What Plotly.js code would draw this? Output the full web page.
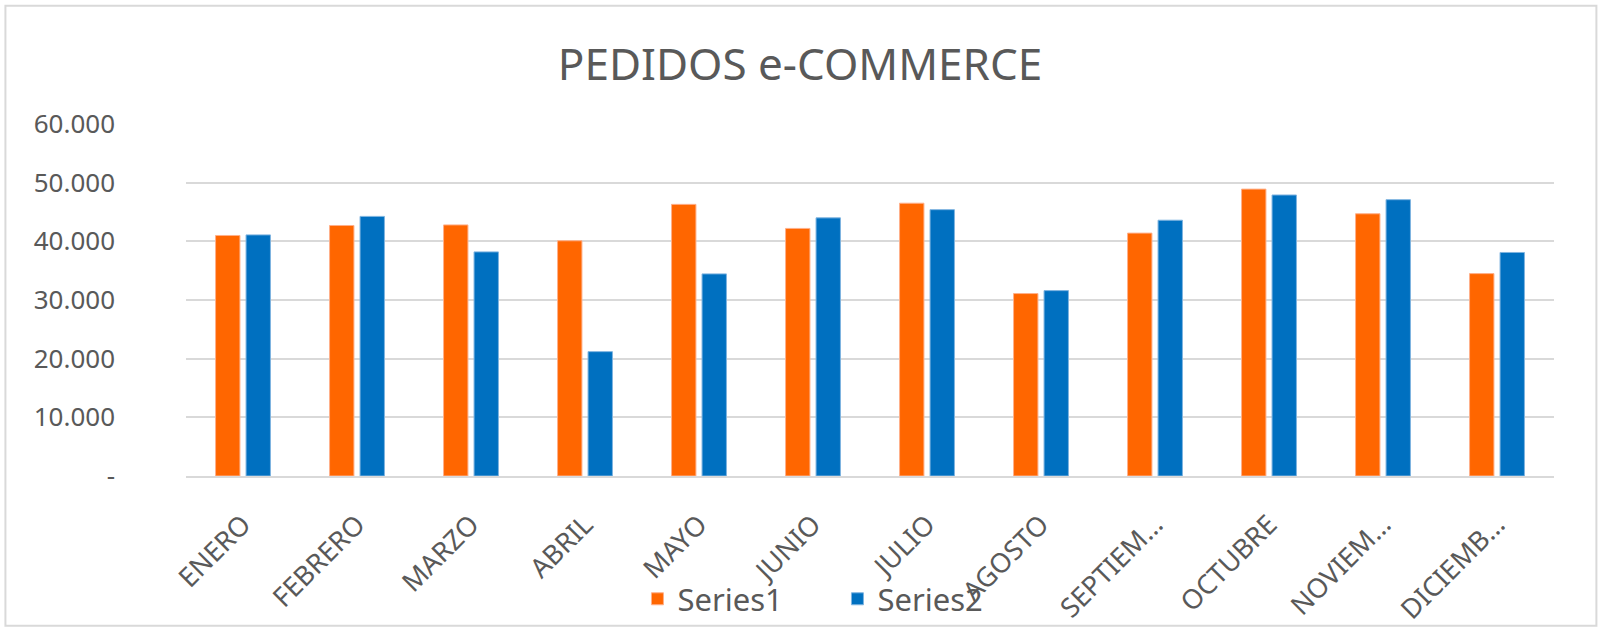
<!DOCTYPE html>
<html>
<head>
<meta charset="utf-8">
<script src="https://cdn.plot.ly/plotly-3.0.1.min.js"></script>
<style>
  html, body { margin: 0; padding: 0; background: #ffffff; }
  #chart { width: 1600px; height: 632px; }
</style>
</head>
<body>
<div id="chart"></div>
<script>
// Months as shown on the axis (Excel truncated the long ones)
const months = ['ENERO', 'FEBRERO', 'MARZO', 'ABRIL', 'MAYO', 'JUNIO',
  'JULIO', 'AGOSTO', 'SEPTIEM…', 'OCTUBRE', 'NOVIEM…', 'DICIEMB…'];

// Orders per month
const series1 = [41000, 42700, 42800, 40100, 46300, 42200,
  46500, 31100, 41400, 48900, 44700, 34500];
const series2 = [41100, 44250, 38200, 21200, 34450, 44000,
  45400, 31600, 43600, 47900, 47100, 38100];

const seriesNames = ['Series1', 'Series2'];

// Y axis ticks, Excel style (thousands with a dot, zero as a dash)
const yTickVals = [0, 10000, 20000, 30000, 40000, 50000, 60000];
const yTickText = ['-', '10.000', '20.000', '30.000', '40.000', '50.000', '60.000'];

const FONT = 'Noto Sans, Open Sans, sans-serif';
const TEXT_COLOR = '#595959';
const GRID = '#d9d9d9';

const traces = [
  {
    type: 'bar',
    x: months,
    y: series1,
    name: seriesNames[0],
    marker: { color: '#ff6600', line: { color: '#ffb08a', width: 1 } },
    hoverinfo: 'x+y'
  },
  {
    type: 'bar',
    x: months,
    y: series2,
    name: seriesNames[1],
    marker: { color: '#0070c0', line: { color: '#7fb4e0', width: 1 } },
    hoverinfo: 'x+y'
  }
];

const layout = {
  width: 1600,
  height: 632,
  title: {
    text: 'PEDIDOS e-COMMERCE',
    x: 0.5,
    xanchor: 'center',
    xref: 'container',
    y: 0.897,
    yanchor: 'middle',
    yref: 'container',
    font: { family: FONT, size: 44, color: TEXT_COLOR }
  },
  barmode: 'group',
  bargap: 0.465,
  bargroupgap: 0.2,
  margin: { l: 186, r: 46, t: 124, b: 156 },
  xaxis: {
    type: 'category',
    tickangle: -45,
    tickfont: { family: FONT, size: 27, color: TEXT_COLOR },
    showgrid: false,
    showline: true,
    linecolor: GRID,
    linewidth: 2,
    ticks: '',
    ticklen: 0,
    ticklabelstandoff: 20,
    automargin: false
  },
  yaxis: {
    range: [0, 60000],
    tickvals: yTickVals,
    ticktext: yTickText,
    tickfont: { family: FONT, size: 26, color: TEXT_COLOR },
    gridcolor: GRID,
    gridwidth: 2,
    zeroline: false,
    showline: false,
    ticks: '',
    ticklabelstandoff: 70,
    automargin: false
  },
  showlegend: true,
  legend: {
    orientation: 'h',
    x: 0.33,
    xanchor: 'left',
    yref: 'container',
    y: 0.052,
    yanchor: 'middle',
    font: { family: FONT, size: 31, color: TEXT_COLOR },
    bgcolor: 'rgba(0,0,0,0)',
    itemwidth: 30,
    entrywidth: 155,
    entrywidthmode: 'pixels',
    traceorder: 'normal'
  },
  shapes: [
    {
      // outer chart frame
      type: 'rect',
      xref: 'paper', yref: 'paper',
      x0: -0.132, x1: 1.031,
      y0: -0.4255, y1: 1.336,
      line: { color: '#d9d9d9', width: 2 },
      fillcolor: 'rgba(0,0,0,0)',
      layer: 'below'
    }
  ],
  paper_bgcolor: '#ffffff',
  plot_bgcolor: '#ffffff',
  font: { family: FONT, color: TEXT_COLOR }
};

Plotly.newPlot('chart', traces, layout, { displayModeBar: false, staticPlot: true });
</script>
</body>
</html>
